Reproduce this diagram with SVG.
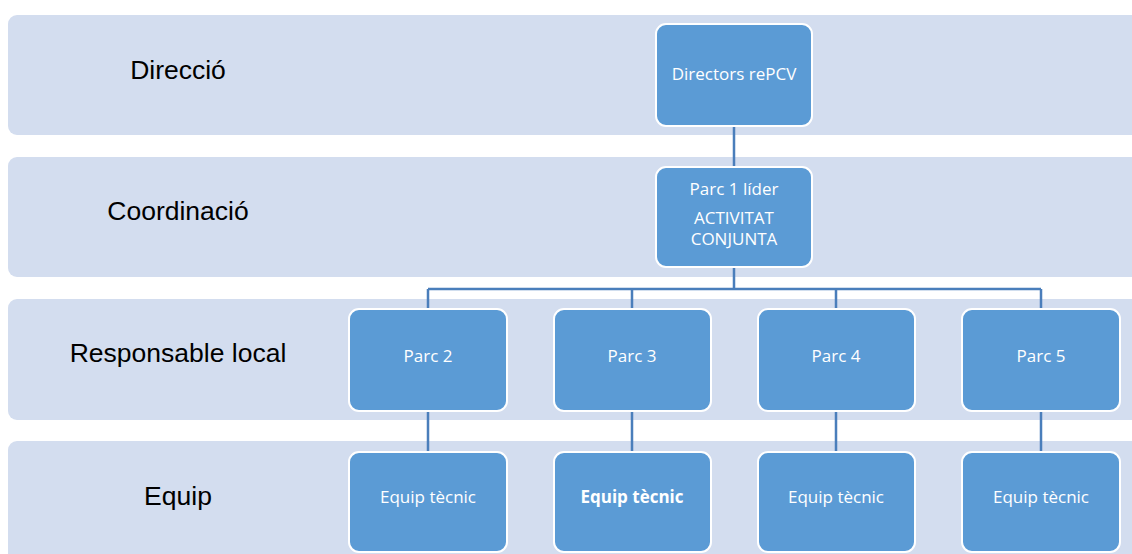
<svg xmlns="http://www.w3.org/2000/svg" width="1132" height="554" viewBox="0 0 1132 554">
<style>
.band{fill:#d3ddef}
.lbl{font-family:"Liberation Sans",Arial,sans-serif;font-size:26.5px;fill:#000;text-anchor:middle}
.box{fill:#5b9bd5;stroke:#ffffff;stroke-width:2}
.bt{font-family:"Open Sans","Noto Sans",sans-serif;font-size:17px;fill:#ffffff;text-anchor:middle}
.con{stroke:#4a7ebb;stroke-width:2.5;fill:none}
</style>
<rect width="1132" height="554" fill="#ffffff"/>
<g id="bands">
<rect class="band" x="8" y="15" width="1140" height="120" rx="9"/>
<rect class="band" x="8" y="157" width="1140" height="120" rx="9"/>
<rect class="band" x="8" y="299" width="1140" height="121" rx="9"/>
<rect class="band" x="8" y="441" width="1140" height="130" rx="9"/>
</g>
<g id="labels">
<text class="lbl" x="178" y="79">Direcció</text>
<text class="lbl" x="178" y="220">Coordinació</text>
<text class="lbl" x="178" y="362">Responsable local</text>
<text class="lbl" x="178" y="505">Equip</text>
</g>
<g id="connectors">
<path class="con" d="M734 126V167M734 267V289M428 289H1041M428 289V308M632 289V308M836 289V308M1041 289V308M428 411V451M632 411V451M836 411V451M1041 411V451"/>
</g>
<g id="directors"><rect class="box" x="656" y="24" width="156" height="102" rx="10"/><text class="bt" x="734" y="80">Directors rePCV</text></g>
<g id="parc1"><rect class="box" x="656" y="167" width="156" height="100" rx="10"/><text class="bt" x="734" y="195">Parc 1 líder</text><text class="bt" x="734" y="224">ACTIVITAT</text><text class="bt" x="734" y="245">CONJUNTA</text></g>
<g id="parc2"><rect class="box" x="349" y="309" width="158" height="102" rx="10"/><text class="bt" x="428" y="362">Parc 2</text></g>
<g id="parc3"><rect class="box" x="554" y="309" width="157" height="102" rx="10"/><text class="bt" x="632" y="362">Parc 3</text></g>
<g id="parc4"><rect class="box" x="758" y="309" width="157" height="102" rx="10"/><text class="bt" x="836" y="362">Parc 4</text></g>
<g id="parc5"><rect class="box" x="962" y="309" width="158" height="102" rx="10"/><text class="bt" x="1041" y="362">Parc 5</text></g>
<g id="equip2"><rect class="box" x="349" y="452" width="158" height="100" rx="10"/><text class="bt" x="428" y="503">Equip tècnic</text></g>
<g id="equip3"><rect class="box" x="554" y="452" width="157" height="100" rx="10"/><text class="bt" x="632" y="503" font-weight="bold">Equip tècnic</text></g>
<g id="equip4"><rect class="box" x="758" y="452" width="157" height="100" rx="10"/><text class="bt" x="836" y="503">Equip tècnic</text></g>
<g id="equip5"><rect class="box" x="962" y="452" width="158" height="100" rx="10"/><text class="bt" x="1041" y="503">Equip tècnic</text></g>
</svg>
